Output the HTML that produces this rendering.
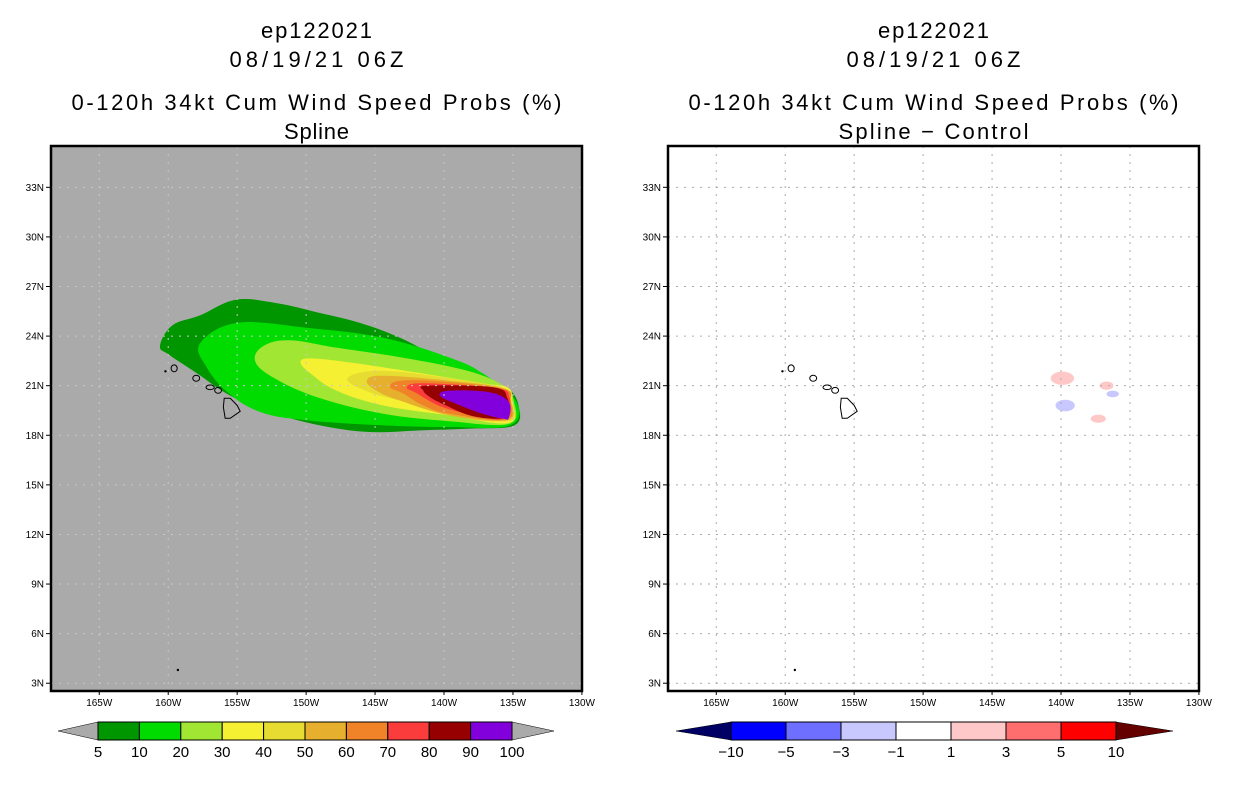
<!DOCTYPE html>
<html><head><meta charset="utf-8"><style>
html,body{margin:0;padding:0;background:#fff;}
svg{display:block;font-family:"Liberation Sans",sans-serif;}
</style></head><body>
<svg id="chart" width="1236" height="800" viewBox="0 0 1236 800" xmlns="http://www.w3.org/2000/svg"></svg>
<script>
// ---- data ----
const lonTicks=[165,160,155,150,145,140,135,130];
const latTicks=[33,30,27,24,21,18,15,12,9,6,3];
const probLevels=[5,10,20,30,40,50,60,70,80,90,100];
const probColors=["#009600","#00dc00","#a0e632","#f5f032","#e6dc32","#e6af2d","#f08228","#fa3c3c","#960000","#8200dc"];
const diffLevels=[-10,-5,-3,-1,1,3,5,10];
const diffColors=["#0000ff","#6e6eff","#c8c8ff","#ffffff","#ffc8c8","#ff6e6e","#ff0000"];
// contour polygons [lonW, lat]
const c5=[[160.6,23.4],[159.7,24.65],[157.7,25.25],[155.1,26.2],[152.2,26.0],[149.0,25.4],[146.1,24.8],[143.2,23.9],[140.3,22.65],[137.4,21.45],[135.4,20.85],[134.6,19.8],[134.9,18.6],[138.1,18.4],[141.7,18.3],[145.4,18.2],[149.0,18.6],[152.6,19.4],[155.5,20.4],[158.0,21.8],[159.9,22.85]];
const c10=[[157.7,23.55],[155.0,24.8],[149.9,24.5],[144.4,23.9],[139.6,22.7],[137.2,21.75],[134.8,20.1],[135.2,18.6],[139.6,18.5],[144.4,18.6],[149.9,18.9],[153.3,19.4],[155.7,20.6],[157.2,22.1]];
const c20=[[153.7,22.5],[153.1,23.4],[151.2,23.75],[147.8,23.3],[143.0,22.7],[138.3,21.9],[135.7,21.0],[134.95,20.1],[135.25,18.7],[139.6,18.85],[144.4,19.3],[149.2,20.3],[152.4,21.5]];
const c30=[[150.4,22.4],[149.7,22.65],[146.8,22.4],[142.0,21.8],[137.2,21.15],[135.4,20.9],[135.05,20.1],[135.3,18.75],[139.6,19.2],[144.4,19.8],[147.8,20.7],[149.7,21.75]];
const c40=[[147.0,21.45],[144.6,21.9],[139.6,21.45],[135.6,20.85],[135.1,20.1],[135.3,18.85],[139.6,19.5],[143.2,20.1],[145.7,20.7]];
const c50=[[145.6,21.3],[144.4,21.6],[139.6,21.3],[135.7,20.85],[135.15,20.1],[135.4,18.9],[139.6,19.2],[143.2,20.1],[144.9,20.7]];
const c60=[[143.9,20.9],[143.2,21.3],[140.1,21.25],[135.7,20.8],[135.2,20.1],[135.5,18.95],[139.6,19.3],[141.5,19.8],[143.0,20.55]];
const c70=[[142.7,20.9],[141.5,21.15],[136.2,20.85],[135.25,20.3],[135.35,19.3],[135.9,18.95],[137.2,19.1],[140.1,19.7],[142.0,20.55]];
const c80=[[141.5,20.7],[141.2,21.0],[136.4,20.9],[135.4,20.25],[135.4,19.3],[136.0,19.0],[138.1,19.2],[140.1,19.9],[141.0,20.3]];
const c90=[[140.3,20.4],[139.6,20.7],[136.7,20.6],[135.3,20.0],[135.3,19.05],[135.7,19.0],[137.2,19.3],[139.1,19.9]];
const contours=[c5,c10,c20,c30,c40,c50,c60,c70,c80,c90];
// difference blobs [lonW, lat, rxDeg, ryDeg, colorIndex]
const diffBlobs=[[139.9,21.45,0.85,0.4,4],[136.7,21.0,0.5,0.25,4],[139.7,19.8,0.7,0.35,2],[136.25,20.5,0.45,0.2,2],[137.3,19.0,0.55,0.25,4]];
// coastlines
const bigIsland=[[155.94,20.24],[155.5,20.24],[155.0,19.81],[154.78,19.45],[155.5,19.03],[155.87,19.03],[156.0,19.7]];
const smallIslands=[[159.57,22.05,0.22,0.15],[157.97,21.45,0.25,0.12],[156.96,20.9,0.3,0.08],[156.38,20.72,0.25,0.12]];
const dots=[[160.2,21.87],[159.3,3.8]];

const S=document.getElementById('chart');
const NS="http://www.w3.org/2000/svg";
function mk(tag,attrs,parent,name){const e=document.createElementNS(NS,tag);for(const k in attrs)e.setAttribute(k,attrs[k]);(parent||S).appendChild(e);


return e;}
function txt(s,x,y,size,anchor,len,name,parent){const t=mk('text',{x:x,y:y,'font-size':size,'text-anchor':anchor||'middle',fill:'#000'},parent,name);if(len){t.setAttribute('textLength',len);t.setAttribute('lengthAdjust','spacing');}t.textContent=s;return t;}
function smoothPath(pts){
  const n=pts.length;let d='M'+pts[0][0]+','+pts[0][1];
  for(let i=0;i<n;i++){const p0=pts[(i-1+n)%n],p1=pts[i],p2=pts[(i+1)%n],p3=pts[(i+2)%n];
    const t=0.18;
    d+=' C'+(p1[0]+(p2[0]-p0[0])*t)+','+(p1[1]+(p2[1]-p0[1])*t)+' '+(p2[0]-(p3[0]-p1[0])*t)+','+(p2[1]-(p3[1]-p1[1])*t)+' '+p2[0]+','+p2[1];}
  return d+'Z';
}
function panel(x0,id,titles,fill){
  const x1=x0+531,y0=146,y1=691;
  const lonPx=13.79, latPx=16.53;
  const X=w=>x0+(168.5-w)*lonPx;
  const Y=l=>y0+(35.5-l)*latPx;
  const g=mk('g',{},S,id);
  const cx=(x0+x1)/2;
  txt(titles[0],cx,38,22,'middle',titles[4],'title-storm',g);
  txt(titles[1],cx,67,22,'middle',174,'title-date',g);
  txt(titles[2],cx,110,22,'middle',490,'title-product',g);
  txt(titles[3],cx,139,22,'middle',titles[5],'title-method',g);
  const defs=mk('clipPath',{id:id+'-clip'},g,'clip');
  mk('rect',{x:x0,y:y0,width:531,height:545},defs,'clip-rect');
  mk('rect',{x:x0,y:y0,width:531,height:545,fill:fill},g,'plot-background');
  const pg=mk('g',{'clip-path':'url(#'+id+'-clip)'},g,'plot-area');
  return {g,pg,X,Y,x0,x1,y0,y1};
}
function frame(p,gridColor){
  const {g,pg,X,Y,x0,x1,y0,y1}=p;
  lonTicks.forEach(w=>{const x=X(w);
    if(x>x0+2&&x<x1-2) mk('line',{x1:x,y1:y0,x2:x,y2:y1,stroke:gridColor,'stroke-width':1,'stroke-dasharray':'2,6,2,6'},pg,'lon-gridline');
    mk('line',{x1:x,y1:y1,x2:x,y2:y1+4,stroke:'#000'},g,'x-tick');
    txt(w+'W',x,706,10,'middle',null,'x-tick-label',g);});
  latTicks.forEach(l=>{const y=Y(l);
    mk('line',{x1:x0,y1:y,x2:x1,y2:y,stroke:gridColor,'stroke-width':1,'stroke-dasharray':'2,6,2,6'},pg,'lat-gridline');
    mk('line',{x1:x0-5,y1:y,x2:x0,y2:y,stroke:'#000'},g,'y-tick');
    txt(l+'N',x0-7,y+3.5,10,'end',null,'y-tick-label',g);});
  mk('polygon',{points:bigIsland.map(p=>X(p[0])+','+Y(p[1])).join(' '),fill:'none',stroke:'#000','stroke-width':1},pg,'big-island-coast');
  smallIslands.forEach(s=>mk('ellipse',{cx:X(s[0]),cy:Y(s[1]),rx:s[2]*13.79,ry:s[3]*16.53+1,fill:'none',stroke:'#000','stroke-width':1},pg,'island-coast'));
  dots.forEach(d=>mk('circle',{cx:X(d[0]),cy:Y(d[1]),r:1.2,fill:'#000'},pg,'island-dot'));
  mk('rect',{x:x0,y:y0,width:x1-x0,height:y1-y0,fill:'none',stroke:'#000','stroke-width':2.5},g,'plot-frame');
}
function colorbar(g,x0,x1,tipL,tipR,colors,levels,lc,rc,name){
  const y0=722,y1=740,w=(x1-x0)/colors.length,cg=mk('g',{},g,name);
  mk('polygon',{points:`${tipL},${(y0+y1)/2} ${x0},${y0} ${x0},${y1}`,fill:lc,stroke:'#000','stroke-width':0.5},cg,'colorbar-arrow-low');
  mk('polygon',{points:`${tipR},${(y0+y1)/2} ${x1},${y0} ${x1},${y1}`,fill:rc,stroke:'#000','stroke-width':0.5},cg,'colorbar-arrow-high');
  colors.forEach((c,i)=>mk('rect',{x:x0+i*w,y:y0,width:w,height:y1-y0,fill:c,stroke:'#000','stroke-width':1},cg,'colorbar-swatch'));
  levels.forEach((v,i)=>txt(String(v).replace('-','\u2212'),x0+i*w,757,15,'middle',null,'colorbar-label',cg));
}
// left panel
const L=panel(51,'left-panel',['ep122021','08/19/21 06Z','0-120h 34kt Cum Wind Speed Probs (%)','Spline',111,65],'#aaaaaa');
contours.forEach((c,i)=>mk('path',{d:smoothPath(c.map(p=>[L.X(p[0]),L.Y(p[1])])),fill:probColors[i]},L.pg,'prob-contour-'+probLevels[i]));
frame(L,'#c8c8c8');
colorbar(L.g,98,512,58,554,probColors,probLevels,'#aaaaaa','#aaaaaa','prob-colorbar');
// right panel
const R=panel(668,'right-panel',['ep122021','08/19/21 06Z','0-120h 34kt Cum Wind Speed Probs (%)','Spline \u2212 Control',111,190],'#ffffff');
diffBlobs.forEach(b=>mk('ellipse',{cx:R.X(b[0]),cy:R.Y(b[1]),rx:b[2]*13.79,ry:b[3]*16.53,fill:diffColors[b[4]]},R.pg,'diff-blob'));
frame(R,'#aaaaaa');
colorbar(R.g,731,1116,676,1173,diffColors,diffLevels,'#000064','#640000','diff-colorbar');
</script>
</body></html>
